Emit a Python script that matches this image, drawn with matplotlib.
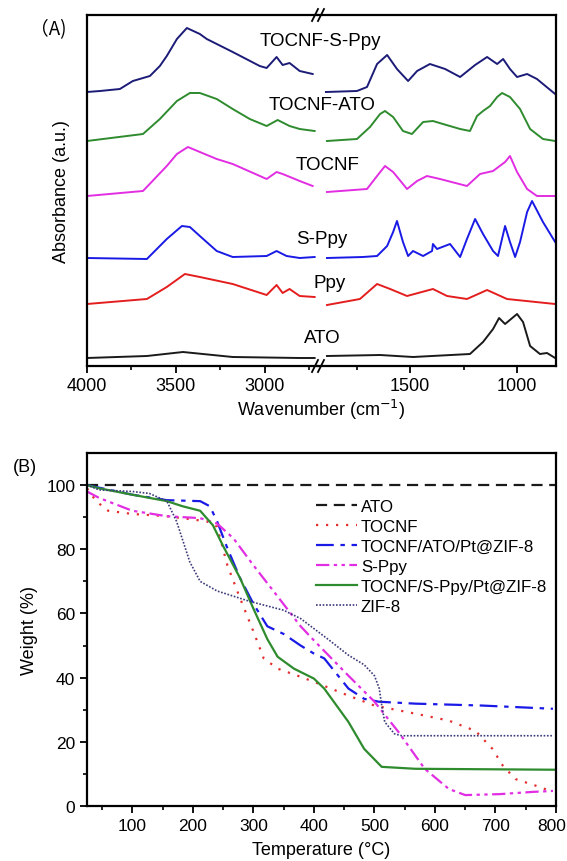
import numpy as np
import matplotlib
matplotlib.use('Agg')
import matplotlib.pyplot as plt
import matplotlib.transforms as mtrans

plt.rcParams['font.family'] = ['Liberation Sans', 'DejaVu Sans']

##############################################################################
# (A) FTIR spectra, two wavenumber windows (left 4000-2700, right 1930-818)
wn_l = {
    'TOCNF-S-Ppy': [4000, 3927, 3815, 3742, 3646, 3590, 3551, 3494, 3438, 3365, 3326, 3180, 3028, 2989, 2933, 2899, 2860, 2803, 2730],
    'TOCNF-ATO':   [4000, 3685, 3590, 3494, 3421, 3365, 3270, 3180, 3084, 2989, 2927, 2860, 2803, 2719],
    'TOCNF':       [4000, 3685, 3551, 3494, 3432, 3365, 3270, 3180, 2989, 2933, 2899, 2803, 2730],
    'S-Ppy':       [4000, 3663, 3551, 3466, 3421, 3365, 3270, 3180, 2989, 2933, 2877, 2803, 2719],
    'Ppy':         [4000, 3663, 3551, 3449, 3365, 3180, 2989, 2933, 2899, 2860, 2803, 2719],
    'ATO':         [4000, 3663, 3460, 3180, 2803, 2719],
}
ab_l = {
    'TOCNF-S-Ppy': [2.74, 2.75, 2.77, 2.85, 2.90, 3.00, 3.10, 3.27, 3.38, 3.32, 3.27, 3.14, 3.00, 2.98, 3.09, 3.01, 3.03, 2.95, 2.92],
    'TOCNF-ATO':   [2.25, 2.32, 2.47, 2.65, 2.73, 2.73, 2.67, 2.57, 2.47, 2.40, 2.46, 2.40, 2.37, 2.35],
    'TOCNF':       [1.70, 1.75, 2.00, 2.12, 2.19, 2.14, 2.07, 2.02, 1.87, 1.94, 1.92, 1.85, 1.80],
    'S-Ppy':       [1.08, 1.07, 1.27, 1.40, 1.39, 1.30, 1.15, 1.09, 1.10, 1.15, 1.10, 1.08, 1.09],
    'Ppy':         [0.62, 0.67, 0.79, 0.92, 0.89, 0.82, 0.71, 0.81, 0.73, 0.77, 0.70, 0.69],
    'ATO':         [0.08, 0.10, 0.14, 0.09, 0.08, 0.08],
}
wn_r = {
    'TOCNF-S-Ppy': [1893, 1748, 1701, 1654, 1607, 1561, 1509, 1467, 1407, 1336, 1266, 1196, 1140, 1093, 1065, 1033, 1000, 953, 907, 822],
    'TOCNF-ATO':   [1888, 1748, 1687, 1640, 1617, 1579, 1533, 1491, 1439, 1393, 1346, 1266, 1220, 1187, 1159, 1126, 1093, 1070, 1033, 986, 939, 879, 822],
    'TOCNF':       [1888, 1701, 1654, 1617, 1579, 1514, 1467, 1421, 1360, 1234, 1173, 1112, 1056, 1033, 1000, 953, 907, 822],
    'S-Ppy':       [1888, 1720, 1654, 1607, 1579, 1561, 1533, 1509, 1486, 1439, 1397, 1393, 1374, 1313, 1266, 1234, 1196, 1159, 1112, 1089, 1056, 1033, 1009, 986, 953, 930, 879, 822],
    'Ppy':         [1888, 1734, 1654, 1593, 1514, 1393, 1327, 1234, 1140, 1047, 822],
    'ATO':         [1888, 1640, 1486, 1220, 1159, 1112, 1084, 1056, 1000, 972, 939, 893, 860, 822],
}
ab_r = {
    'TOCNF-S-Ppy': [2.74, 2.75, 2.79, 3.02, 3.11, 2.97, 2.85, 2.95, 3.02, 2.97, 2.89, 3.01, 3.09, 3.02, 3.07, 2.97, 2.89, 2.92, 2.87, 2.72],
    'TOCNF-ATO':   [2.25, 2.27, 2.39, 2.52, 2.55, 2.49, 2.35, 2.32, 2.44, 2.45, 2.42, 2.37, 2.35, 2.50, 2.55, 2.60, 2.69, 2.73, 2.69, 2.57, 2.37, 2.27, 2.25],
    'TOCNF':       [1.74, 1.77, 1.90, 2.00, 1.94, 1.77, 1.85, 1.90, 1.87, 1.80, 1.92, 1.95, 2.04, 2.10, 1.94, 1.77, 1.70, 1.70],
    'S-Ppy':       [1.08, 1.09, 1.10, 1.20, 1.34, 1.45, 1.24, 1.10, 1.15, 1.10, 1.15, 1.22, 1.17, 1.22, 1.09, 1.27, 1.47, 1.32, 1.15, 1.10, 1.40, 1.24, 1.09, 1.24, 1.54, 1.65, 1.44, 1.24],
    'Ppy':         [0.61, 0.67, 0.82, 0.77, 0.70, 0.77, 0.70, 0.67, 0.76, 0.67, 0.62],
    'ATO':         [0.10, 0.11, 0.09, 0.12, 0.24, 0.37, 0.48, 0.42, 0.52, 0.44, 0.20, 0.12, 0.13, 0.08],
}
colori_ftir = {'TOCNF-S-Ppy': '#1c1c78', 'TOCNF-ATO': '#2e8b2e', 'TOCNF': '#e22ee2',
               'S-Ppy': '#1a1ae6', 'Ppy': '#e41e1e', 'ATO': '#1a1a1a'}
# label position (figure px) for each spectrum
pos_lab = {'TOCNF-S-Ppy': (320, 42), 'TOCNF-ATO': (322, 105), 'TOCNF': (328, 166),
           'S-Ppy': (322, 240), 'Ppy': (330, 283), 'ATO': (322, 339)}

##############################################################################
# (B) TGA
temp = {
    'ATO': [25, 800],
    'TOCNF': [25, 40, 60, 100, 157, 223, 240, 257, 278, 300, 317, 340, 373, 400, 457, 500, 567, 623, 667, 695, 712, 733, 767, 795],
    'TOCNF/ATO/Pt@ZIF-8': [25, 100, 157, 212, 228, 240, 257, 278, 300, 323, 350, 378, 400, 417, 457, 483, 507, 567, 678, 795],
    'S-Ppy': [25, 45, 100, 157, 212, 240, 267, 300, 333, 378, 400, 457, 500, 540, 583, 623, 650, 707, 762, 795],
    'TOCNF/S-Ppy/Pt@ZIF-8': [25, 45, 100, 157, 183, 212, 233, 250, 278, 300, 323, 340, 367, 400, 417, 457, 483, 512, 567, 800],
    'ZIF-8': [25, 45, 100, 128, 157, 173, 195, 212, 240, 295, 350, 378, 423, 457, 483, 500, 508, 512, 517, 533, 545, 795],
}
peso = {
    'ATO': [100, 100],
    'TOCNF': [99, 95, 92, 91, 90.3, 88.7, 87, 75, 64.7, 54.4, 46, 42.8, 40.6, 38.7, 34.4, 31.3, 28.8, 26.6, 23.4, 17.8, 12.6, 8.4, 6.3, 4.4],
    'TOCNF/ATO/Pt@ZIF-8': [100, 97, 95.3, 95, 93.4, 88.7, 80.3, 71, 63, 56, 53.6, 50, 47.5, 46, 36.6, 33.4, 32.5, 31.9, 31.3, 30.3],
    'S-Ppy': [98, 96, 92, 90.3, 89.7, 88, 83.4, 75, 67, 56, 51.6, 40.6, 32.5, 23, 11.6, 5.3, 3.4, 3.7, 4.4, 4.7],
    'TOCNF/S-Ppy/Pt@ZIF-8': [100, 99, 97, 95, 93.4, 92, 87.5, 81, 71, 61.5, 52, 46.5, 42.8, 39.7, 36.6, 26.2, 17.8, 12.2, 11.6, 11.3],
    'ZIF-8': [100, 98.5, 98, 97.4, 95, 88.7, 76, 70, 67, 63.7, 61, 58.4, 52, 47, 44, 40.6, 36.6, 31.3, 26.2, 22.5, 21.9, 21.9],
}
stili_tga = {
    'ATO': ('#1a1a1a', (0, (5, 3))),
    'TOCNF': ('#e23030', (0, (1, 3.5))),
    'TOCNF/ATO/Pt@ZIF-8': ('#1a1ae6', (0, (8, 3, 2, 3))),
    'S-Ppy': ('#e22ee2', (0, (6, 2, 1.5, 2, 1.5, 2))),
    'TOCNF/S-Ppy/Pt@ZIF-8': ('#2e8b2e', '-'),
    'ZIF-8': ('#3a3a7a', (0, (1, 1))),
}

W, H = 567, 862
fig = plt.figure(figsize=(W / 100, H / 100), dpi=100)

def fx(px):
    return px / W

def fy(py):
    return 1 - py / H

# ----- panel A
x0, xb, x1 = 87, 318, 556
axl = fig.add_axes([fx(x0), fy(367), fx(xb - x0), fy(16) - fy(367)])
axr = fig.add_axes([fx(xb), fy(367), fx(x1 - xb), fy(16) - fy(367)], sharey=axl)
for k in wn_l:
    axl.plot(wn_l[k], ab_l[k], color=colori_ftir[k], lw=1.4)
    axr.plot(wn_r[k], ab_r[k], color=colori_ftir[k], lw=1.4)
axl.set_xlim(4000, 2700)
axr.set_xlim(1930, 818)
axl.set_ylim(0, 3.51)
axl.set_xticks([4000, 3500, 3000])
axl.set_xticks([3750, 3250, 2750], minor=True)
axr.set_xticks([1500, 1000])
axr.set_xticks([1750, 1250], minor=True)
for a in (axl, axr):
    a.tick_params(axis='x', direction='out', length=5, width=1.3, labelsize=13, pad=3)
    a.tick_params(axis='x', which='minor', direction='out', length=3, width=1.2)
    a.tick_params(axis='y', left=False, labelleft=False, right=False)
    for s in a.spines.values():
        s.set_linewidth(1.6)
axl.spines['right'].set_visible(False)
axr.spines['left'].set_visible(False)
axl.set_ylabel('Absorbance (a.u.)', fontsize=13, labelpad=12)

# segni di interruzione //
for yy in (16, 367):
    for dx in (-3, 3):
        fig.add_artist(plt.Line2D([fx(xb + dx - 3), fx(xb + dx + 3)], [fy(yy + 6), fy(yy - 6)],
                                  color='k', lw=1.3))
fig.text(fx(321), fy(410), 'Wavenumber (cm$^{-1}$)', fontsize=13, ha='center', va='center')
for k, (px, py) in pos_lab.items():
    fig.text(fx(px), fy(py), k, fontsize=13.5, ha='center', va='center')
fig.text(fx(48), fy(30), '（A)', fontsize=13.5, ha='center', va='center',
         family=['Noto Sans CJK SC', 'DejaVu Sans'])

# ----- panel B
axb = fig.add_axes([fx(87), fy(807), fx(556 - 87), fy(454) - fy(807)])
for k in temp:
    c, ls = stili_tga[k]
    axb.plot(temp[k], peso[k], color=c, linestyle=ls, lw=1.6 if k != 'ZIF-8' else 1.2, label=k)
axb.set_xlim(25, 800)
axb.set_ylim(0, 110)
axb.set_xticks([100, 200, 300, 400, 500, 600, 700, 800])
axb.set_xticks([50, 150, 250, 350, 450, 550, 650, 750], minor=True)
axb.set_yticks([0, 20, 40, 60, 80, 100])
axb.set_yticks([10, 30, 50, 70, 90], minor=True)
axb.tick_params(direction='out', length=5, width=1.3, labelsize=12.5)
axb.tick_params(which='minor', direction='out', length=3, width=1.2)
for s in axb.spines.values():
    s.set_linewidth(1.6)
axb.set_xlabel('Temperature (°C)', fontsize=13, labelpad=6)
axb.set_ylabel('Weight (%)', fontsize=13, labelpad=6)
axb.legend(loc='upper left', bbox_to_anchor=(0.47, 0.895), frameon=False, fontsize=12.2,
           handlelength=2.4, handletextpad=0.25, labelspacing=0.3, borderpad=0)
fig.text(fx(25), fy(468), '(B)', fontsize=13, ha='center', va='center')

# "800" un poco a sinistra per non uscire dal bordo
lab800 = axb.get_xticklabels()[-1]
lab800.set_transform(lab800.get_transform() + mtrans.ScaledTranslation(-4 / 100, 0, fig.dpi_scale_trans))

fig.savefig('out.png', dpi=100)
